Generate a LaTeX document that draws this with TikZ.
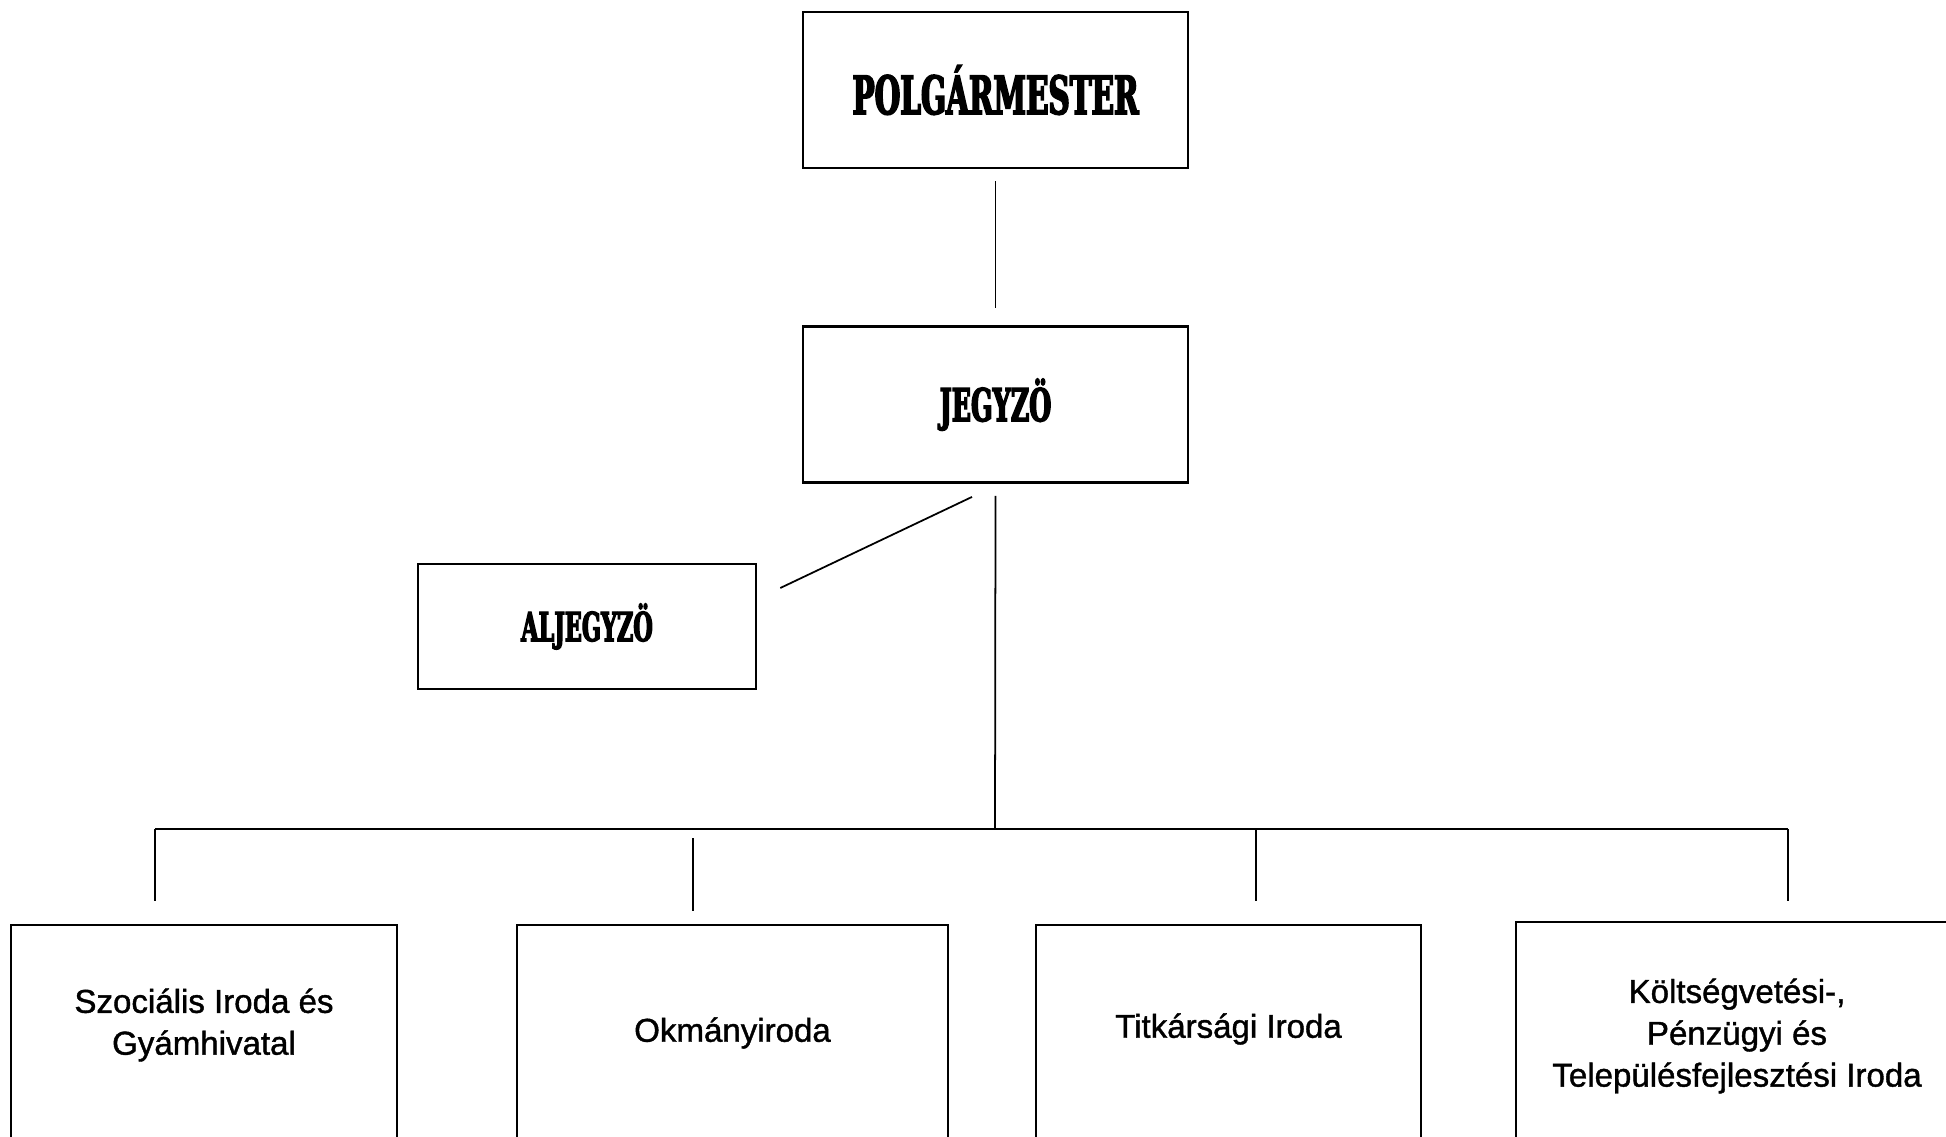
\documentclass[tikz,border=0pt]{standalone}
\usepackage{fontspec}
\setmainfont{Liberation Sans}
\newfontfamily\headfont[FakeStretch=0.62,FakeBold=3]{DejaVu Serif Condensed Bold}
\newfontfamily\unitfont[FakeBold=1.2]{Liberation Sans}
\usetikzlibrary{positioning}

\tikzset{
  head/.style={draw,line width=0.7pt,minimum width=3.85cm,minimum height=1.56cm,inner sep=0pt,font=\headfont},
  office/.style={draw,line width=0.7pt,minimum height=2.16cm},
  unit/.style={align=center,inner sep=0pt,font=\unitfont\fontsize{9.4}{11.9}\selectfont},
  link/.style={line width=0.5pt}
}

\begin{document}
\begin{tikzpicture}[x=0.01cm,y=-0.01cm]
  \useasboundingbox (0,0) rectangle (1946,1137);
  % Nodes
  \node[head] (polg) at (995.5,90) {\fontsize{15}{16}\selectfont POLGÁRMESTER};
  \node[head,below=1.56cm of polg] (jegy) {\fontsize{12.9}{14}\selectfont JEGYZÖ};
  \node[head,minimum width=3.38cm,minimum height=1.25cm] (aljegy) at (587,626.5) {\fontsize{11.4}{12}\selectfont ALJEGYZÖ};
  \node[office,minimum width=3.86cm] (szoc) at (204,1033) {};
  \node[office,minimum width=4.31cm] (okm) at (732.5,1033) {};
  \node[office,minimum width=3.85cm] (titk) at (1228.5,1033) {};
  \node[office,minimum width=4.42cm,minimum height=2.2cm] (kolt) at (1737,1032) {};
  % Unit names
  \node[unit] (szocText) at (204,1025) {Szociális Iroda és\\Gyámhivatal};
  \node[unit] (okmText) at (732.5,1033) {Okmányiroda};
  \node[unit] (titkText) at (1228.5,1029) {Titkársági Iroda};
  \node[unit] (koltText) at (1737,1036) {Költségvetési-,\\Pénzügyi és\\Településfejlesztési Iroda};
  % Bus
  \coordinate (bus) at (995,829);
  \coordinate (busL) at (155,829);
  \coordinate (busR) at (1788,829);
  \coordinate (busT) at (1256,829);
  \coordinate (szocEnd) at (155,901);
  \coordinate (okmTop) at (693,838);
  \coordinate (okmEnd) at (693,911);
  \coordinate (titkEnd) at (1256,901);
  \coordinate (koltEnd) at (1788,901);
  % Edges
  \draw[link] ([yshift=-0.12cm]polg.south) -- ([yshift=0.17cm]jegy.north);
  \draw[link] ([yshift=-0.12cm]jegy.south) -- (bus);
  \draw[link] ([xshift=-0.235cm,yshift=-0.13cm]jegy.south) -- ([xshift=0.23cm,yshift=0.385cm]aljegy.east);
  \draw[line width=0.75pt] (busL) -- (busR);
  \draw[link] (busL) -- (szocEnd);
  \draw[link] (okmTop) -- (okmEnd);
  \draw[link] (busT) -- (titkEnd);
  \draw[link] (busR) -- (koltEnd);
\end{tikzpicture}
\end{document}
